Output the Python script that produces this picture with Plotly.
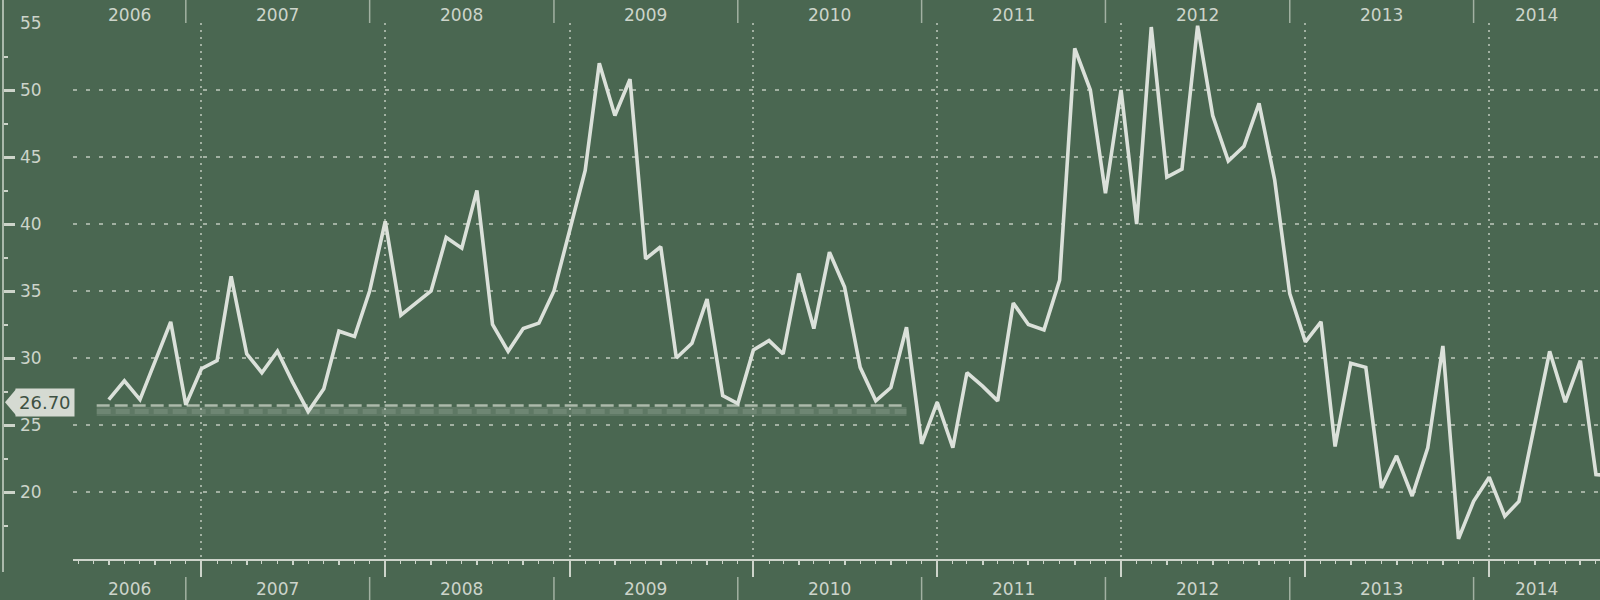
import pandas as pd
import plotly.graph_objects as go

# ---------------- data ----------------
months = pd.date_range("2006-07-01", "2014-09-01", freq="MS")
values = [
    26.9, 28.3, 26.9, 29.7, 32.7, 26.5,                                   # 2006 Jul-Dec
    29.2, 29.8, 36.1, 30.3, 28.9, 30.5, 28.2, 26.0, 27.7, 32.0, 31.6, 35.0,  # 2007
    40.2, 33.2, 34.1, 35.0, 39.0, 38.2, 42.5, 32.5, 30.5, 32.2, 32.6, 35.0,  # 2008
    39.5, 44.0, 52.0, 48.1, 50.8, 37.4, 38.3, 30.0, 31.1, 34.4, 27.2, 26.6,  # 2009
    30.6, 31.3, 30.3, 36.3, 32.2, 37.9, 35.3, 29.3, 26.8, 27.8, 32.3, 23.6,  # 2010
    26.7, 23.3, 28.9, 27.9, 26.8, 34.1, 32.5, 32.1, 35.8, 53.1, 50.0, 42.3,  # 2011
    50.0, 40.0, 54.7, 43.5, 44.1, 54.8, 48.1, 44.7, 45.8, 49.0, 43.3, 34.8,  # 2012
    31.2, 32.7, 23.4, 29.6, 29.3, 20.3, 22.7, 19.7, 23.3, 30.9, 16.5, 19.3,  # 2013
    21.1, 18.2, 19.3, 24.9, 30.5, 26.7, 29.8, 21.3, 21.2,                    # 2014 Jan-Sep
]
years = [2006, 2007, 2008, 2009, 2010, 2011, 2012, 2013, 2014]
y_ticks = [15, 20, 25, 30, 35, 40, 45, 50, 55]
y_labels = ["", "20", "25", "30", "35", "40", "45", "50", "55"]
y_grid = [20, 25, 30, 35, 40, 45, 50]
ref_label = "26.70"
ref_label_value = 26.70
ref_line_value = 26.45
ref_shadow_value = 26.0
ref_start, ref_end = "2006-06-07", "2010-11-01"

x_start, x_end = pd.Timestamp("2006-04-21"), pd.Timestamp("2014-08-09")

# ---------------- style ----------------
BG = "#4a6751"
LINE = "#dbe1da"
TXT = "#cdd4ca"
GRID = "rgba(200,210,196,0.7)"
FONT = "DejaVu Sans"

W, H = 1600, 600
ML, MR, MT, MB = 3, 0, 23, 41
plot_w = W - ML - MR
plot_h = H - MT - MB
x_dom0 = 70 / plot_w

def py(pix):  # pixel y -> paper y
    return (H - MB - pix) / plot_h

def px(pix):  # pixel x -> paper x
    return (pix - ML) / plot_w

fig = go.Figure()

# reference band (soft shadow) and dashed line
fig.add_trace(go.Scatter(
    x=[ref_start, ref_end], y=[ref_shadow_value, ref_shadow_value],
    mode="lines", line=dict(color="rgba(200,210,196,0.16)", width=9),
    hoverinfo="skip", showlegend=False))
fig.add_trace(go.Scatter(
    x=[ref_start, ref_end], y=[ref_shadow_value, ref_shadow_value],
    mode="lines", line=dict(color="rgba(200,210,196,0.16)", width=5, dash="14px,5px"),
    hoverinfo="skip", showlegend=False))
fig.add_trace(go.Scatter(
    x=[ref_start, ref_end], y=[ref_line_value, ref_line_value],
    mode="lines", line=dict(color="rgba(205,214,202,0.75)", width=2.5, dash="13px,5px"),
    hoverinfo="skip", showlegend=False))

# main series
fig.add_trace(go.Scatter(
    x=months, y=values, mode="lines",
    line=dict(color=LINE, width=3.6), showlegend=False))

# quarterly ticks on overlay axis
quarter_ticks = [d for d in pd.date_range("2006-04-01", "2014-08-01", freq="QS-JAN") if d.month != 1]
year_starts = [pd.Timestamp(f"{y}-01-01") for y in years[1:]]

fig.update_layout(
    width=W, height=H,
    margin=dict(l=ML, r=MR, t=MT, b=MB),
    paper_bgcolor=BG, plot_bgcolor=BG,
    font=dict(family=FONT, color=TXT, size=17),
    showlegend=False,
    xaxis=dict(
        domain=[x_dom0, 1], range=[x_start, x_end], type="date",
        tickvals=year_starts, showticklabels=False,
        ticks="outside", ticklen=16, tickwidth=1.5, tickcolor=TXT,
        showline=True, linecolor=TXT, linewidth=1.5,
        showgrid=True, gridcolor=GRID, gridwidth=1.5, griddash="2px,5px",
        minor=dict(dtick="M1", ticks="outside", ticklen=3, tickwidth=1, tickcolor=TXT, showgrid=False),
        zeroline=False, fixedrange=True,
    ),
    xaxis2=dict(
        overlaying="x", matches="x", domain=[x_dom0, 1], anchor="y", type="date",
        tickvals=quarter_ticks, showticklabels=False, side="bottom",
        ticks="outside", ticklen=5, tickwidth=2, tickcolor=TXT,
        showgrid=False, showline=False, zeroline=False,
    ),
    yaxis=dict(
        range=[15, 55], anchor="free", position=0, side="left",
        tickvals=y_ticks, showticklabels=False,
        ticks="inside", ticklen=11, tickwidth=2.5, tickcolor=TXT,
        showgrid=False, showline=False, zeroline=False,
        minor=dict(tickvals=[v + 2.5 for v in y_ticks[:-1]], ticks="inside", ticklen=4,
                   tickwidth=1.5, tickcolor=TXT, showgrid=False),
    ),
    yaxis2=dict(
        overlaying="y", matches="y", anchor="x", range=[15, 55],
        tickvals=y_grid, showticklabels=False, ticks="",
        showgrid=True, gridcolor=GRID, gridwidth=1.5, griddash="4px,9px",
        zeroline=False, showline=False,
    ),
)

# invisible trace to activate overlay axes
fig.add_trace(go.Scatter(x=[months[0]], y=[values[0]], xaxis="x2", yaxis="y2",
                         mode="markers", marker=dict(opacity=0), hoverinfo="skip", showlegend=False))

# y axis tick labels (to the right of the axis line)
for v, lab in zip(y_ticks, y_labels):
    if lab:
        fig.add_annotation(x=px(18), y=v, xref="paper", yref="y", text=lab, showarrow=False,
                           xanchor="left", yanchor="middle", font=dict(size=17, color=TXT))

# y axis line (extends beyond the plot area)
fig.add_shape(type="line", xref="paper", yref="paper", x0=0, x1=0, y0=py(572), y1=py(0),
              line=dict(color=TXT, width=1.5))

# year bands (top & bottom) with separators at Dec 1
seps = [pd.Timestamp(f"{y}-12-01") for y in years[:-1]]
bounds = [x_start] + seps + [x_end]
for i, yr in enumerate(years):
    mid = bounds[i] + (bounds[i + 1] - bounds[i]) / 2
    for ypix in (15, 589):
        fig.add_annotation(x=mid, y=py(ypix), xref="x", yref="paper", text=str(yr),
                           showarrow=False, font=dict(size=17, color=TXT),
                           xanchor="center", yanchor="middle")
for s in seps:
    fig.add_shape(type="line", xref="x", yref="paper", x0=s, x1=s, y0=py(0), y1=py(23),
                  line=dict(color="rgba(200,210,196,0.7)", width=1.5))
    fig.add_shape(type="line", xref="x", yref="paper", x0=s, x1=s, y0=py(577), y1=py(600),
                  line=dict(color="rgba(200,210,196,0.7)", width=1.5))

# value label with pointer
fig.add_annotation(x=px(15), y=ref_label_value, xref="paper", yref="y", text=ref_label,
                   showarrow=False, xanchor="left", yanchor="middle",
                   bgcolor="#d5dad2", borderpad=3,
                   font=dict(size=18, color="#3e5143", family=FONT))
half = 13 / (plot_h / 40)
fig.add_shape(type="path", xref="paper", yref="y",
              path=f"M {px(5)},{ref_label_value} L {px(16)},{ref_label_value + half} "
                   f"L {px(16)},{ref_label_value - half} Z",
              fillcolor="#d5dad2", line=dict(width=0))

fig.write_html("out.html", config={"displayModeBar": False},
               post_script="document.body.style.margin='0';")
